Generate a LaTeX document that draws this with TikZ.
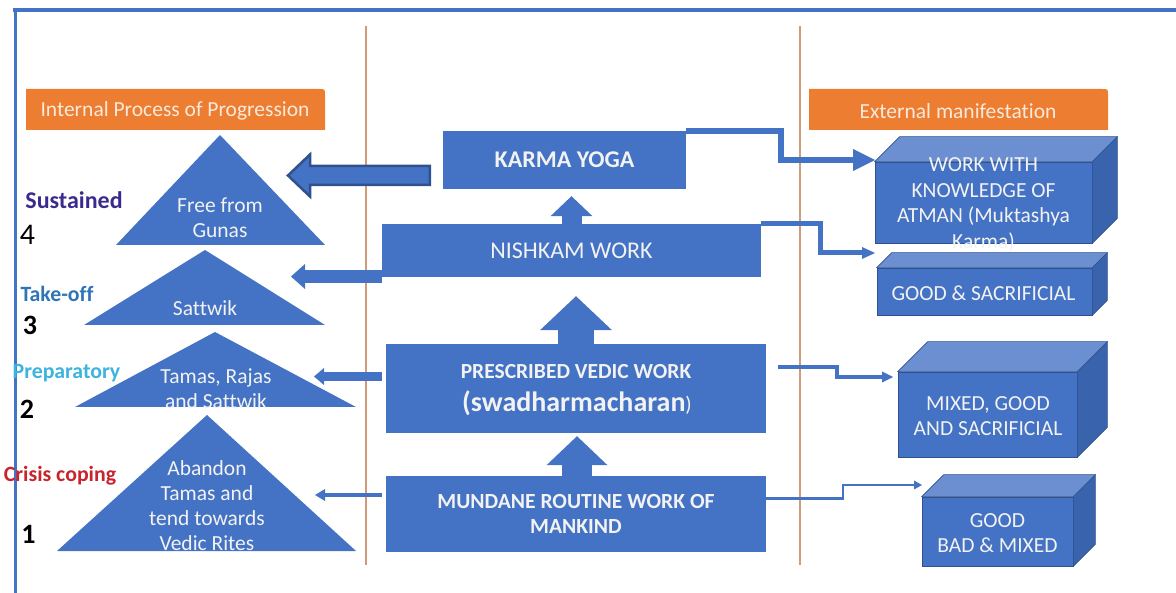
\documentclass[tikz,border=0pt]{standalone}
\usepackage{fontspec}
\setmainfont{Carlito}[Ligatures=NoCommon]
\usetikzlibrary{arrows.meta,calc}
\definecolor{bl}{HTML}{4472C4}
\definecolor{bldark}{HTML}{2F528F}
\definecolor{bltop}{HTML}{6C8FD1}
\definecolor{blside}{HTML}{3A63AE}
\definecolor{org}{HTML}{ED7D31}
\definecolor{orgtxt}{HTML}{FBE9DC}
\definecolor{sep}{HTML}{D29B77}
\definecolor{txt}{HTML}{F2F2F2}
\definecolor{sust}{HTML}{3B2A8E}
\definecolor{take}{HTML}{2E75B6}
\definecolor{prep}{HTML}{3DB3DD}
\definecolor{crisis}{HTML}{C8242B}
\begin{document}
\begin{tikzpicture}[x=1pt,y=-1pt,
  midbox/.style={fill=bl, draw=none, inner sep=0pt, text=txt, align=center},
  face/.style={fill=bl, draw=bldark, line width=0.6pt, inner sep=0pt},
  topface/.style={fill=bltop, draw=bldark, line width=0.6pt},
  sideface/.style={fill=blside, draw=bldark, line width=0.6pt},
  facetext/.style={text=txt, align=center, inner sep=0pt, font=\fontsize{21.5}{25.5}\selectfont},
  tri/.style={fill=bl},
  tritext/.style={text=txt, align=center, inner sep=0pt, font=\fontsize{21.5}{25}\selectfont},
  lvl/.style={inner sep=0pt, font=\bfseries\fontsize{21.8}{26}\selectfont},
  num/.style={inner sep=0pt, font=\bfseries\fontsize{28}{30}\selectfont},
  hdr/.style={text=orgtxt, inner sep=0pt, font=\fontsize{21.5}{24}\selectfont},
  uparrow/.style={draw=bl, line cap=butt},
  leftarrow/.style={draw=bl, line cap=butt},
  elbow/.style={draw=bl, line cap=butt, line join=miter},
  sepline/.style={draw=sep, line width=1.8pt}
]
\useasboundingbox (0,0) rectangle (1176,593);

% frame
\draw[bl, line width=4pt] (13,10) -- (1176,10);
\draw[bl, line width=2.5pt] (15.5,10) -- (15.5,593);

% separators
\draw[sepline] (366,26) -- (366,565);
\draw[sepline] (800,26) -- (800,565);

% orange headers
\fill[org] (26,130) -- (26,89) -- (319,89) .. controls (325,89) .. (325,95) -- (325,130) -- cycle;
\fill[org] (809,130) -- (809,89) -- (1102,89) .. controls (1108,89) .. (1108,95) -- (1108,130) -- cycle;
\node[hdr] (ipp) at (175,111) {Internal Process of Progression};
\node[hdr] (ext) at (958,111) {External manifestation};

% triangles
\fill[tri] (220,135) -- (325,245) -- (116,245) -- cycle;
\fill[tri] (205,250) -- (325,325) -- (84,325) -- cycle;
\fill[tri] (215,332) -- (356,407) -- (75,407) -- cycle;
\fill[tri] (207,415) -- (356,551) -- (57,551) -- cycle;
\node[tritext] (t4) at (220,218) {Free from\\Gunas};
\node[tritext] (t3) at (205,308) {Sattwik};
\node[tritext] (t2) at (216,389) {Tamas, Rajas\\and Sattwik};
\node[tritext] (t1) at (207,505.5) {Abandon\\Tamas and\\tend towards\\Vedic Rites};

% level labels
\node[lvl, text=sust, font=\bfseries\fontsize{24}{26}\selectfont] (l4) at (74,200) {Sustained};
\node[inner sep=0pt, font=\fontsize{30}{32}\selectfont] (n4) at (27.5,235) {4};
\node[lvl, text=take] (l3) at (57,294) {Take-off};
\node[num] (n3) at (30,325) {3};
\node[lvl, text=prep] (l2) at (66.5,373) {Preparatory};
\node[num] (n2) at (27,409) {2};
\node[lvl, text=crisis] (l1) at (60,476) {Crisis coping};
\node[num] (n1) at (28.5,534) {1};

% middle boxes
\node[midbox, minimum width=243pt, minimum height=58pt, font=\bfseries\fontsize{24}{26}\selectfont] (karma) at (564.5,160) {KARMA YOGA};
\node[midbox, minimum width=379pt, minimum height=53pt, font=\fontsize{24}{26}\selectfont] (nishkam) at (571.5,250.5) {NISHKAM WORK};
\node[midbox, minimum width=380pt, minimum height=89pt] (vedic) at (576,388.5) {};
\node[text=txt, inner sep=0pt, font=\bfseries\fontsize{21.5}{24}\selectfont] (vedic1) at (576,372) {PRESCRIBED VEDIC WORK};
\node[text=txt, inner sep=0pt, font=\bfseries\fontsize{28}{30}\selectfont] (vedic2) at (577,403) {(swadharmacharan{\mdseries\fontsize{21}{22}\selectfont)}};
\node[midbox, minimum width=380pt, minimum height=75pt, font=\bfseries\fontsize{21.6}{25.5}\selectfont] (mundane) at (576,514) {MUNDANE ROUTINE WORK OF\\MANKIND};

% up block arrows
\draw[uparrow, line width=20pt, -{Triangle[length=20pt,width=42pt,line width'=0pt]}, shorten >=7pt] (nishkam.north) -- (nishkam.north |- karma.south);
\draw[uparrow, line width=36pt, -{Triangle[length=34pt,width=72pt,line width'=0pt]}, shorten >=19pt] (vedic.north) -- (vedic.north |- nishkam.south);
\draw[uparrow, line width=30pt, -{Triangle[length=29pt,width=61pt,line width'=0pt]}, shorten >=3pt] ([xshift=1pt]mundane.north) -- ([xshift=1pt]mundane.north |- vedic.south);

% left arrows
\coordinate (t4in) at (288,175.5);
\coordinate (t3in) at (291,276.5);
\coordinate (t2in) at (314,376.5);
\coordinate (t1in) at (315,495);
\filldraw[fill=bl, draw=bldark, line width=2.5pt, line join=miter]
  (t4in) -- ++(22,-21) -- ++(0,11.5) -- ($(karma.west |- t4in)+(-13,-9.5)$) -- ++(0,19)
  -- ($(t4in)+(22,9.5)$) -- ++(0,11.5) -- cycle;
\draw[leftarrow, line width=13pt, -{Triangle[length=14pt,width=25pt,line width'=0pt]}] (nishkam.west |- t3in) -- (t3in);
\draw[leftarrow, line width=9pt, -{Triangle[length=10pt,width=17pt,line width'=0pt]}] ($(vedic.west |- t2in)+(-4,0)$) -- (t2in);
\draw[leftarrow, line width=4pt, -{Triangle[length=10pt,width=12pt,line width'=0pt]}] ($(mundane.west |- t1in)+(-4,0)$) -- (t1in);

% cuboids
\node[face, minimum width=217pt, minimum height=81pt] (c1) at (983.5,202.5) {};
\fill[topface] (c1.north west) -- ++(25,-25) -- ($(c1.north east)+(25,-25)$) -- (c1.north east) -- cycle;
\fill[sideface] (c1.north east) -- ++(25,-25) -- ($(c1.south east)+(25,-25)$) -- (c1.south east) -- cycle;
\node[facetext] (c1t) at (983.5,204.5) {WORK WITH\\KNOWLEDGE OF\\ATMAN (Muktashya\\Karma)};

\node[face, minimum width=215pt, minimum height=47pt] (c2) at (984.5,291.5) {};
\fill[topface] (c2.north west) -- ++(15,-15) -- ($(c2.north east)+(15,-15)$) -- (c2.north east) -- cycle;
\fill[sideface] (c2.north east) -- ++(15,-15) -- ($(c2.south east)+(15,-15)$) -- (c2.south east) -- cycle;
\node[facetext] (c2t) at (983.5,293) {GOOD \& SACRIFICIAL};

\node[face, minimum width=179pt, minimum height=85pt] (c3) at (987.5,414.5) {};
\fill[topface] (c3.north west) -- ++(30,-30) -- ($(c3.north east)+(30,-30)$) -- (c3.north east) -- cycle;
\fill[sideface] (c3.north east) -- ++(30,-30) -- ($(c3.south east)+(30,-30)$) -- (c3.south east) -- cycle;
\node[facetext] (c3t) at (988,416) {MIXED, GOOD\\AND SACRIFICIAL};

\node[face, minimum width=151pt, minimum height=69pt] (c4) at (997.5,531.5) {};
\fill[topface] (c4.north west) -- ++(22,-22) -- ($(c4.north east)+(22,-22)$) -- (c4.north east) -- cycle;
\fill[sideface] (c4.north east) -- ++(22,-22) -- ($(c4.south east)+(22,-22)$) -- (c4.south east) -- cycle;
\node[facetext] (c4t) at (997.5,533) {GOOD\\BAD \& MIXED};

% right elbow connectors
\coordinate (c1in) at (875,160);
\coordinate (c2in) at (875,253);
\coordinate (c3in) at (893,377);
\coordinate (c4in) at (922,485);
\coordinate (e3s) at (778,367);
\draw[elbow, line width=6pt, -{Triangle[length=22pt,width=22pt,line width'=0pt]}] (karma.north east) -| (781,160) -- (c1in);
\draw[elbow, line width=5pt, -{Triangle[length=13pt,width=12pt,line width'=0pt]}] (nishkam.north east) -| (820,253) -- (c2in);
\draw[elbow, line width=4pt, -{Triangle[length=11pt,width=11pt,line width'=0pt]}] (e3s) -| (837,377) -- (c3in);
\draw[elbow, line width=2.5pt, -{Triangle[length=8pt,width=9pt,line width'=0pt]}] ($(mundane.east)+(0,-15.5)$) -| (843,485) -- (c4in);
\end{tikzpicture}
\end{document}
